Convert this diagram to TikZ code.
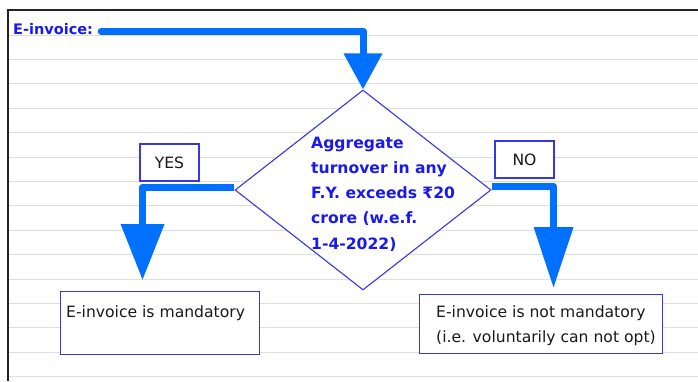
\documentclass[tikz,border=0pt]{standalone}
\usepackage{fontspec}
\setmainfont{DejaVu Sans}
\usetikzlibrary{arrows.meta,shapes.geometric}

\definecolor{flowblue}{RGB}{0,112,255}
\definecolor{lineblue}{RGB}{55,55,230}
\definecolor{inkblue}{RGB}{25,25,235}
\definecolor{rulegray}{RGB}{222,222,222}
\definecolor{frameink}{RGB}{35,35,35}
\definecolor{bodyink}{RGB}{25,25,25}

\begin{document}
\begin{tikzpicture}[x=1pt,y=-1pt,
  flow/.style={draw=flowblue, line width=7pt, line join=round},
  box/.style={draw=lineblue, fill=white, line width=1.1pt, inner sep=0pt,
    text=bodyink, font=\fontsize{15.6}{25}\selectfont},
  bodytext/.style={text=bodyink, inner sep=0pt, align=left,
    font=\fontsize{15.6}{25}\selectfont},
  heading/.style={text=inkblue, inner sep=0pt,
    font=\fontsize{15.6}{25.3}\selectfont\bfseries}
]
% page, ruled paper and frame
\useasboundingbox (0,0) rectangle (698,381);
\fill[white] (0,0) rectangle (698,381);
\foreach \k in {0,...,14}
  \draw[rulegray, line width=1pt] (9,{35+24.4*\k}) -- (698,{35+24.4*\k});
\draw[frameink, line width=2pt] (8,381) -- (8,10) -- (698,10);

% title
\node[heading, anchor=west, font=\fontsize{14.5}{18}\selectfont\bfseries]
  (einv) at (13,29) {E-invoice:};

% decision
\node[diamond, draw=lineblue, fill=white, line width=1.1pt, inner sep=0pt,
  minimum width=256pt, minimum height=200pt] (dec) at (363,190) {};
\node[heading, anchor=west, align=left] (cond) at (311,194)
  {Aggregate\\turnover in any\\F.Y. exceeds ₹20\\crore (w.e.f.\\1-4-2022)};

% answer labels
\node[box, minimum width=59pt, minimum height=37pt] (yes) at (169.5,162.5) {YES};
\node[box, minimum width=59pt, minimum height=37pt] (no) at (524.5,159.5) {NO};

% outcomes
\node[box, anchor=north west, minimum width=199pt, minimum height=63pt]
  (resY) at (60,291) {};
\node[bodytext, anchor=west] (resYtext) at ([xshift=6pt, yshift=10pt]resY.west)
  {E-invoice is mandatory};
\node[box, anchor=north west, minimum width=243pt, minimum height=59pt]
  (resN) at (419,294) {};
\node[bodytext, anchor=west] (resNtext) at ([xshift=17pt, yshift=-2pt]resN.west)
  {E-invoice is not mandatory\\(i.e. voluntarily can not opt)};

% connectors
\draw[flow, line cap=round, shorten <=8pt,
  -{Triangle[width=37pt,length=36pt]}]
  ([yshift=-2pt]einv.east) -| (dec.north);
\draw[flow, -{Triangle[width=42pt,length=56pt]}]
  ([yshift=3pt]dec.west) -| ([shift={(-17.5,-11)}]resY.north);
\draw[flow, -{Triangle[width=38pt,length=61pt]}]
  ([yshift=4pt]dec.east) -| ([shift={(12.5,-6)}]resN.north);
\end{tikzpicture}
\end{document}
